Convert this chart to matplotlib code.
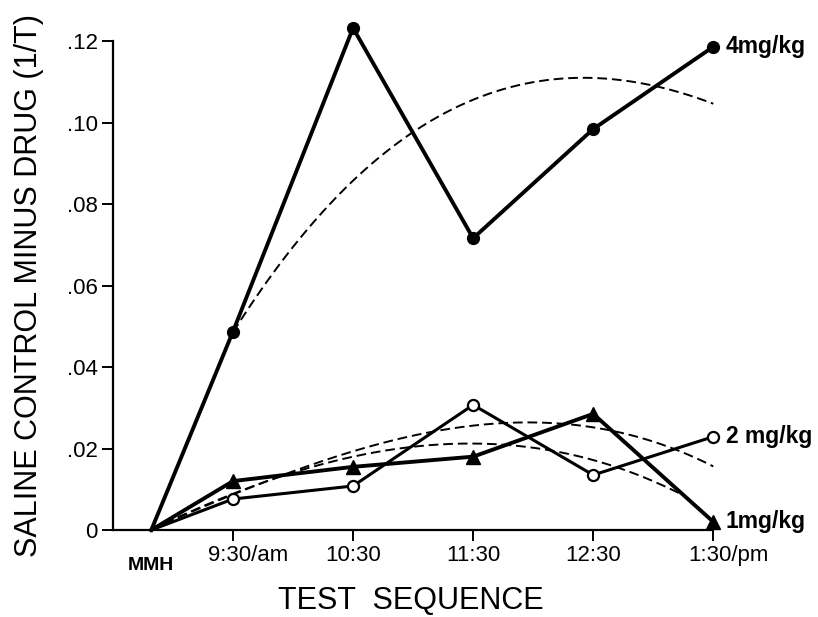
import numpy as np
import matplotlib
matplotlib.use("Agg")
import matplotlib.pyplot as plt
from matplotlib.transforms import ScaledTranslation

# --------------------------------------------------
# data
# --------------------------------------------------
tick_labels = ["9:30/am", "10:30", "11:30", "12:30", "1:30/pm"]
tick_pos = [1, 2, 3, 4, 5]
mmh_pos = 0.32

# measured points (MMH baseline first)
x_all = [mmh_pos, 1, 2, 3, 4, 5]
dose_4 = [0.0, 0.0487, 0.1232, 0.0716, 0.0984, 0.1186]
dose_2 = [0.0, 0.0076, 0.0108, 0.0307, 0.0135, 0.0229]
dose_1 = [0.0, 0.0120, 0.0155, 0.0180, 0.0285, 0.0020]

# dashed fitted trends, read at a few positions
fit_4_x = [1, 2, 3, 4, 5]
fit_4_y = [0.0487, 0.0850, 0.1067, 0.1102, 0.1048]
fit_a_x = [mmh_pos, 1, 2, 3, 4, 5]
fit_a_y = [0.0, 0.0093, 0.0189, 0.0255, 0.0255, 0.0155]
fit_b_x = [mmh_pos, 1, 2, 3, 4, 4.75]
fit_b_y = [0.0, 0.0090, 0.0177, 0.0216, 0.0169, 0.0086]

y_ticks = [0, 0.02, 0.04, 0.06, 0.08, 0.10, 0.12]
y_tick_labels = ["0", ".02", ".04", ".06", ".08", ".10", ".12"]

plt.rcParams["font.family"] = ["Liberation Sans", "DejaVu Sans"]

fig = plt.figure(figsize=(8.18, 6.17), dpi=100)
ax = fig.add_axes([0.138, 0.141, 0.734, 0.7925])

# --------------------------------------------------
# dashed trend curves
# --------------------------------------------------
for fx, fy in [(fit_4_x, fit_4_y), (fit_a_x, fit_a_y), (fit_b_x, fit_b_y)]:
    coef = np.polyfit(fx, fy, 3)
    xs = np.linspace(fx[0], fx[-1], 200)
    ax.plot(xs, np.polyval(coef, xs), color="black", lw=1.4,
            dashes=(5, 2.5), clip_on=False, zorder=2)

# --------------------------------------------------
# measured series
# --------------------------------------------------
ax.plot(x_all, dose_4, color="black", lw=2.8, clip_on=False, zorder=3)
ax.plot(x_all[1:], dose_4[1:], "o", color="black", ms=8.5, clip_on=False, zorder=4)

ax.plot(x_all, dose_1, color="black", lw=2.8, clip_on=False, zorder=3)
ax.plot(x_all[1:], dose_1[1:], "^", color="black", ms=9.5, clip_on=False, zorder=4)

ax.plot(x_all, dose_2, color="black", lw=2.2, clip_on=False, zorder=3)
ax.plot(x_all[1:], dose_2[1:], "o", mfc="white", mec="black", mew=1.6,
        ms=8, clip_on=False, zorder=5)

# series labels at the right
lab_kw = dict(fontsize=16.5, fontweight="bold", va="center", ha="left",
              clip_on=False)
ax.annotate("4mg/kg", (5, dose_4[-1]), xytext=(9, 0),
            textcoords="offset points", **lab_kw)
ax.annotate("2 mg/kg", (5, dose_2[-1]), xytext=(9, 0),
            textcoords="offset points", **lab_kw)
ax.annotate("1mg/kg", (5, dose_1[-1]), xytext=(9, 0),
            textcoords="offset points", **lab_kw)

# --------------------------------------------------
# axes
# --------------------------------------------------
ax.set_xlim(0, 5)
ax.set_ylim(0, 0.12)
for side in ["top", "right"]:
    ax.spines[side].set_visible(False)
for side in ["left", "bottom"]:
    ax.spines[side].set_linewidth(1.6)

ax.set_xticks(tick_pos)
ax.set_xticklabels(tick_labels, fontsize=16)
ax.set_yticks(y_ticks)
ax.set_yticklabels(y_tick_labels, fontsize=16)
ax.tick_params(axis="both", direction="out", length=8, width=1.4, pad=3)

# shift the "/am" and "/pm" labels so the time part sits on the tick
for lab in ax.get_xticklabels():
    if "/" in lab.get_text():
        lab.set_transform(lab.get_transform()
                          + ScaledTranslation(15 / 100, 0, fig.dpi_scale_trans))

mmh = ax.text(mmh_pos, 0.0, "MMH", ha="center", va="center",
              fontsize=14, fontweight="bold")
mmh.set_transform(ax.get_xaxis_transform()
                  + ScaledTranslation(0, -0.35, fig.dpi_scale_trans))

ax.set_xlabel("TEST  SEQUENCE", fontsize=22)
ax.set_ylabel("SALINE CONTROL MINUS DRUG (1/T)", fontsize=22)
ax.xaxis.set_label_coords(0.497, -0.115)
ax.yaxis.set_label_coords(-0.115, 0.50)

fig.savefig("out.png", dpi=100)
